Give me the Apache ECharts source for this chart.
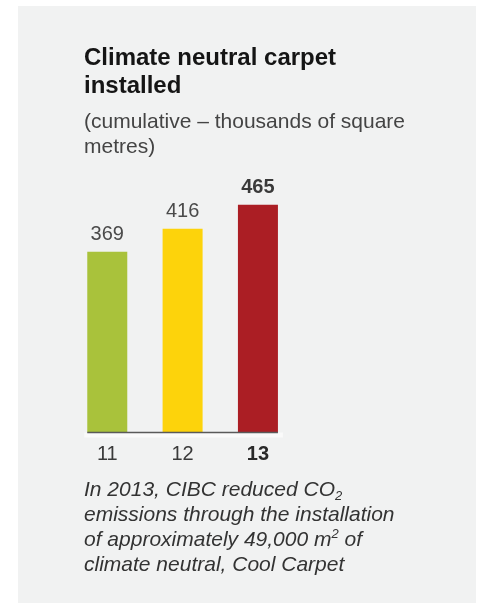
<!DOCTYPE html>
<html>
<head>
<meta charset="utf-8">
<script src="https://cdn.jsdelivr.net/npm/echarts@6/dist/echarts.min.js"></script>
<style>
  html, body { margin: 0; padding: 0; background: #ffffff; }
  #chart { width: 481px; height: 603px; }
</style>
</head>
<body>
<div id="chart"></div>
<script>
// ---- data ----
const categories = ['11', '12', '13'];
const values = [369, 416, 465];
const barColors = ['#a9c23b', '#fdd30b', '#ab1e24'];
const boldIndex = 2; // latest year shown in bold

const FONT = '"Liberation Sans", Arial, Helvetica, sans-serif';

const chart = echarts.init(document.getElementById('chart'), null, { renderer: 'canvas' });

const option = {
  backgroundColor: '#ffffff',
  animation: false,
  graphic: [
    { type: 'rect', z: -10, silent: true, shape: { x: 18, y: 6, width: 458, height: 597 }, style: { fill: '#f1f2f2' } }
  ],
  title: [
    {
      left: 84, top: 44, padding: 0,
      text: 'Climate neutral carpet\ninstalled',
      textStyle: { fontFamily: FONT, fontSize: 24, fontWeight: 'bold', color: '#151515', lineHeight: 28 }
    },
    {
      left: 84, top: 110, padding: 0,
      text: '(cumulative – thousands of square\nmetres)',
      textStyle: { fontFamily: FONT, fontSize: 21, fontWeight: 'normal', color: '#444444', lineHeight: 25 }
    },
    {
      left: 84, top: 478, padding: 0,
      text: 'In 2013, CIBC reduced CO{sub|2}\nemissions through the installation\nof approximately 49,000 m{sup|2} of\nclimate neutral, Cool Carpet',
      textStyle: {
        fontFamily: FONT, fontSize: 21, fontStyle: 'italic', fontWeight: 'normal', color: '#333333', lineHeight: 25,
        rich: {
          sub: { fontFamily: FONT, fontSize: 13, fontStyle: 'italic', color: '#333333', verticalAlign: 'bottom', lineHeight: 25, padding: [8, 0, 0, 0] },
          sup: { fontFamily: FONT, fontSize: 13, fontStyle: 'italic', color: '#333333', verticalAlign: 'top', lineHeight: 25, padding: [0, 0, 8, 0] }
        }
      }
    }
  ],
  grid: { left: 69.6, width: 226, top: 187.5, bottom: 170.5, containLabel: false },
  xAxis: {
    type: 'category',
    data: categories,
    axisLine: { show: false },
    axisTick: { show: false },
    axisLabel: {
      margin: 12,
      fontFamily: FONT, fontSize: 20, color: '#3a3a3a',
      formatter: (v, i) => i === boldIndex ? '{b|' + v + '}' : v,
      rich: { b: { fontFamily: FONT, fontSize: 20, fontWeight: 'bold', color: '#2a2a2a' } }
    }
  },
  yAxis: { type: 'value', min: 0, max: 500, show: false, splitLine: { show: false } },
  series: [{
    type: 'bar',
    barWidth: 40,
    data: values.map((v, i) => ({ value: v, itemStyle: { color: barColors[i] } })),
    label: {
      show: true, position: 'top', distance: 7,
      fontFamily: FONT, fontSize: 20, color: '#4a4a4a',
      formatter: p => p.dataIndex === boldIndex ? '{b|' + p.value + '}' : String(p.value),
      rich: { b: { fontFamily: FONT, fontSize: 20, fontWeight: 'bold', color: '#3a3a3a' } }
    }
  }]
};

chart.setOption(option);

// axis baseline spanning the bars, derived from the library's scales
const first = chart.convertToPixel({ seriesIndex: 0 }, [categories[0], 0]);
const last = chart.convertToPixel({ seriesIndex: 0 }, [categories[categories.length - 1], 0]);
const half = 20;
const x0 = first[0] - half, x1 = last[0] + half, y0 = first[1];
chart.setOption({
  graphic: [
    { type: 'rect', z: -10, silent: true, shape: { x: 18, y: 6, width: 458, height: 597 }, style: { fill: '#f1f2f2' } },
    { type: 'rect', z: -5, silent: true, shape: { x: x0 - 3, y: y0, width: x1 - x0 + 8, height: 5 }, style: { fill: '#fafafa' } },
    { type: 'line', z: 10, silent: true, shape: { x1: x0, y1: y0, x2: x1, y2: y0 }, style: { stroke: '#5a5a5a', lineWidth: 1.5 } }
  ]
});
</script>
</body>
</html>
